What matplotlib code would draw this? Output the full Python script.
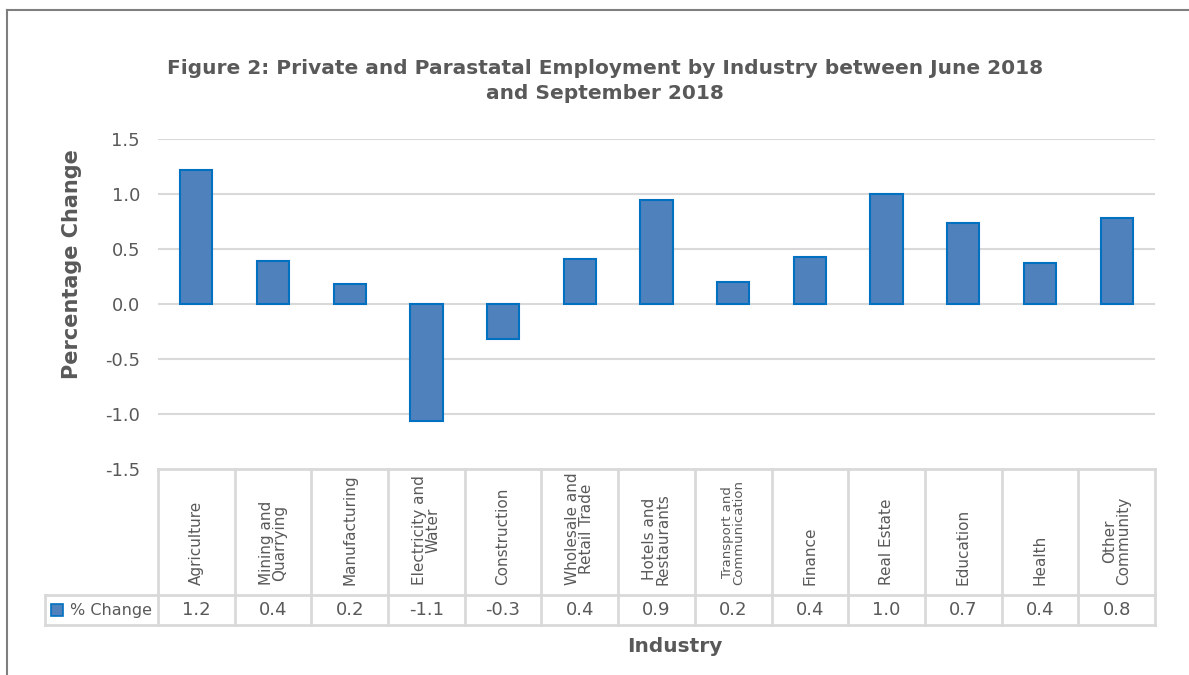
import matplotlib
matplotlib.use("Agg")
import matplotlib.pyplot as plt
from matplotlib.transforms import blended_transform_factory

# data
industries = ["Agriculture", "Mining and\nQuarrying", "Manufacturing", "Electricity and\nWater",
              "Construction", "Wholesale and\nRetail Trade", "Hotels and\nRestaurants",
              "Transport and\nCommunication", "Finance", "Real Estate", "Education", "Health",
              "Other\nCommunity"]
pct_change = [1.22, 0.39, 0.18, -1.06, -0.32, 0.41, 0.945, 0.20, 0.43, 1.0, 0.74, 0.37, 0.78]
table_labels = ["1.2", "0.4", "0.2", "-1.1", "-0.3", "0.4", "0.9", "0.2", "0.4", "1.0", "0.7", "0.4", "0.8"]
yticks = [-1.5, -1.0, -0.5, 0.0, 0.5, 1.0, 1.5]

txt = "#595959"
grid = "#D9D9D9"
plt.rcParams["font.family"] = ["DejaVu Sans"]

W, H = 1189, 675
fig = plt.figure(figsize=(W / 100, H / 100), dpi=100)

def fx(px):
    return px / W

def fy(py):
    return 1 - py / H

# outer frame (runs off right and bottom edges)
fig.add_artist(plt.Line2D([fx(7), fx(7)], [fy(10), 0], color="#7F7F7F", lw=1.5))
fig.add_artist(plt.Line2D([fx(7), 1], [fy(10), fy(10)], color="#7F7F7F", lw=1.5))

left, right, top, bot = 158, 1155, 139, 469
ax = fig.add_axes([fx(left), fy(bot), fx(right - left), (bot - top) / H])
x = list(range(len(industries)))
ax.bar(x, pct_change, width=0.42, color="#4F81BD", edgecolor="#0070C0", linewidth=1.5, zorder=3)
ax.set_xlim(-0.5, len(industries) - 0.5)
ax.set_ylim(-1.5, 1.5)
ax.set_yticks(yticks)
ax.set_yticklabels([f"{v:.1f}" for v in yticks], fontsize=13, color=txt)
ax.tick_params(axis="y", length=0, pad=13)
ax.set_xticks([])
for s in ax.spines.values():
    s.set_visible(False)
for v in yticks[1:]:
    ax.axhline(v, color=grid, lw=1.5, zorder=1)

ax.set_ylabel("Percentage Change", fontsize=15, fontweight="bold", color=txt)
ax.yaxis.set_label_coords(fx(82 - left) / fx(right - left), 0.62)

# data table below the plot
tr = blended_transform_factory(ax.transData, fig.transFigure)
lc = dict(color=grid, lw=2, transform=tr, clip_on=False)
edges = [i - 0.5 for i in range(len(industries) + 1)]
for e in edges:
    fig.add_artist(plt.Line2D([e, e], [fy(469), fy(625)], **lc))
fig.add_artist(plt.Line2D([edges[0], edges[-1]], [fy(469), fy(469)], **lc))
leg_x = -0.5 - (left - 45) / ((right - left) / len(industries))
fig.add_artist(plt.Line2D([leg_x, edges[-1]], [fy(595), fy(595)], **lc))
fig.add_artist(plt.Line2D([leg_x, edges[-1]], [fy(625), fy(625)], **lc))
fig.add_artist(plt.Line2D([leg_x, leg_x], [fy(595), fy(625)], **lc))

for i, (name, lab) in enumerate(zip(industries, table_labels)):
    # longest label is set smaller so it fits in its cell
    fs = 9.5 if "Communication" in name else 11
    fig.text(i, fy(585), name, transform=tr, rotation=90, ha="center", va="bottom",
             fontsize=fs, color=txt, linespacing=0.9)
    fig.text(i, fy(610), lab, transform=tr, ha="center", va="center", fontsize=13, color=txt)

fig.add_artist(plt.Rectangle((fx(51), fy(616)), fx(12), 12 / H, facecolor="#4F81BD",
                             edgecolor="#0070C0", lw=1.2))
fig.text(fx(70), fy(610), "% Change", ha="left", va="center", fontsize=11.5, color=txt)

fig.text(fx(675), fy(646), "Industry", ha="center", va="center", fontsize=14.5,
         fontweight="bold", color=txt)
fig.text(fx(605), fy(81), "Figure 2: Private and Parastatal Employment by Industry between June 2018\nand September 2018",
         ha="center", va="center", fontsize=14.5, fontweight="bold", color=txt, linespacing=1.45)

fig.savefig("out.png", dpi=100)
